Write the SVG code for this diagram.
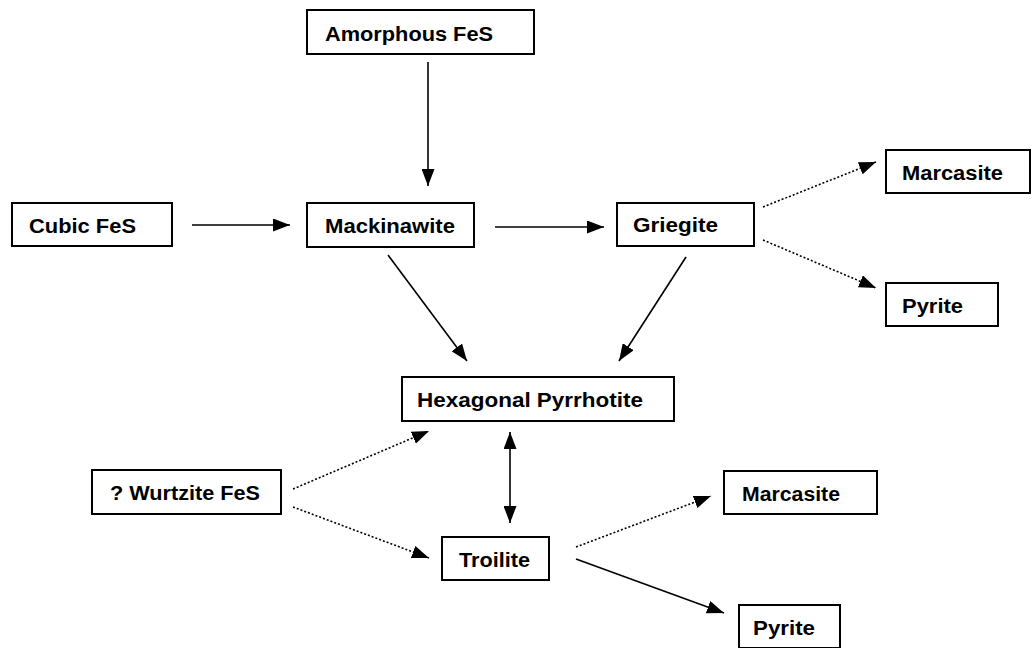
<svg xmlns="http://www.w3.org/2000/svg" width="1034" height="648" viewBox="0 0 1034 648">
<style>
.box{fill:#fff;stroke:#000;stroke-width:2}
.lbl{font-family:"Liberation Sans",Arial,sans-serif;font-weight:bold;font-size:20px;fill:#000}
.c{stroke:#000;stroke-width:1.6;fill:none}
.d{stroke:#000;stroke-width:1.6;fill:none;stroke-dasharray:2 2}
</style>
<defs>
<marker id="ah" viewBox="0 0 17 13" refX="17" refY="6.5" markerWidth="17" markerHeight="13" markerUnits="userSpaceOnUse" orient="auto-start-reverse">
<path d="M0,0 L17,6.5 L0,13 Z" fill="#000"/>
</marker>
</defs>
<g id="connectors">
<line class="c" x1="428" y1="62" x2="428" y2="186" marker-end="url(#ah)"/>
<line class="c" x1="192" y1="225" x2="290" y2="225" marker-end="url(#ah)"/>
<line class="c" x1="495" y1="227" x2="604" y2="227" marker-end="url(#ah)"/>
<line class="d" x1="763" y1="207" x2="876" y2="162" marker-end="url(#ah)"/>
<line class="d" x1="763" y1="240" x2="876" y2="288" marker-end="url(#ah)"/>
<line class="c" x1="388" y1="255" x2="467" y2="361" marker-end="url(#ah)"/>
<line class="c" x1="686" y1="257" x2="619" y2="361" marker-end="url(#ah)"/>
<line class="c" x1="510" y1="432" x2="510" y2="523" marker-start="url(#ah)" marker-end="url(#ah)"/>
<line class="d" x1="293" y1="489" x2="429" y2="431" marker-end="url(#ah)"/>
<line class="d" x1="293" y1="507" x2="429" y2="558" marker-end="url(#ah)"/>
<line class="d" x1="576" y1="547" x2="711" y2="496" marker-end="url(#ah)"/>
<line class="c" x1="576" y1="559" x2="724" y2="613" marker-end="url(#ah)"/>
</g>
<g id="amorphous"><rect class="box" x="307" y="10" width="227" height="44"/><text class="lbl" x="325" y="41" textLength="168" lengthAdjust="spacingAndGlyphs">Amorphous FeS</text></g>
<g id="cubic"><rect class="box" x="12" y="203" width="160" height="43"/><text class="lbl" x="29" y="233" textLength="107" lengthAdjust="spacingAndGlyphs">Cubic FeS</text></g>
<g id="mackinawite"><rect class="box" x="307" y="203" width="167" height="44"/><text class="lbl" x="325" y="233" textLength="130" lengthAdjust="spacingAndGlyphs">Mackinawite</text></g>
<g id="griegite"><rect class="box" x="617" y="203" width="137" height="43"/><text class="lbl" x="633" y="232" textLength="85" lengthAdjust="spacingAndGlyphs">Griegite</text></g>
<g id="marcasite1"><rect class="box" x="886" y="150" width="144" height="43"/><text class="lbl" x="902" y="180" textLength="101" lengthAdjust="spacingAndGlyphs">Marcasite</text></g>
<g id="pyrite1"><rect class="box" x="886" y="283" width="112" height="43"/><text class="lbl" x="902" y="313" textLength="61" lengthAdjust="spacingAndGlyphs">Pyrite</text></g>
<g id="hexagonal"><rect class="box" x="402" y="377" width="272" height="44"/><text class="lbl" x="417" y="407" textLength="226" lengthAdjust="spacingAndGlyphs">Hexagonal Pyrrhotite</text></g>
<g id="wurtzite"><rect class="box" x="92" y="470" width="189" height="44"/><text class="lbl" x="110" y="500" textLength="150" lengthAdjust="spacingAndGlyphs">? Wurtzite FeS</text></g>
<g id="troilite"><rect class="box" x="442" y="537" width="107" height="43"/><text class="lbl" x="459" y="567" textLength="71" lengthAdjust="spacingAndGlyphs">Troilite</text></g>
<g id="marcasite2"><rect class="box" x="724" y="471" width="153" height="43"/><text class="lbl" x="742" y="501" textLength="98" lengthAdjust="spacingAndGlyphs">Marcasite</text></g>
<g id="pyrite2"><rect class="box" x="739" y="605" width="101" height="43"/><text class="lbl" x="753" y="635" textLength="62" lengthAdjust="spacingAndGlyphs">Pyrite</text></g>
</svg>
